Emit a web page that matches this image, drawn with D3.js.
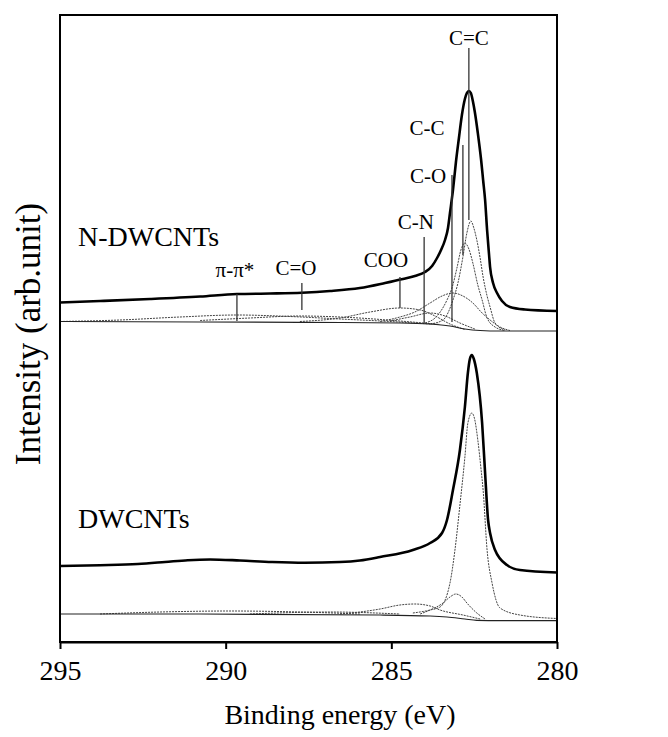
<!DOCTYPE html>
<html>
<head>
<meta charset="utf-8">
<script src="https://cdn.jsdelivr.net/npm/d3@7"></script>
<style>
  body { margin: 0; background: #fff; }
  text { font-family: "Liberation Serif", "Times New Roman", serif; fill: #000; }
</style>
</head>
<body>
<svg id="chart"></svg>
<script>
let width = 668, height = 737;
let margin = {top: 15, right: 111, bottom: 95, left: 60};
let plotW = width - margin.left - margin.right,
    plotH = height - margin.top - margin.bottom;

// binding energy ticks (eV)
let xTicks = [295, 290, 285, 280];

// ---- N-DWCNTs spectrum: [binding energy, intensity (arb.)] ----
let nEnvelope = [
  [295.00, 339.5], [293.79, 341], [292.28, 343], [290.77, 345.5], [289.66, 348],
  [288.66, 348.5], [287.70, 349.3], [286.85, 351], [285.95, 354], [285.19, 359],
  [284.65, 363], [284.29, 366], [283.98, 370], [283.77, 376], [283.62, 384],
  [283.50, 392], [283.38, 402], [283.29, 414], [283.23, 429], [283.14, 452],
  [283.05, 480], [282.96, 504], [282.87, 527], [282.78, 543], [282.72, 549],
  [282.66, 551], [282.60, 549], [282.54, 541], [282.48, 530], [282.39, 509],
  [282.29, 482], [282.23, 462], [282.17, 442], [282.11, 412], [282.05, 387],
  [282.02, 375], [281.93, 359], [281.81, 349], [281.66, 341], [281.42, 335],
  [280.97, 332.5], [280.00, 331]
];
let nBackground = [
  [295.00, 320.5], [290.77, 320], [287.76, 319.7], [284.74, 319], [283.83, 318],
  [283.23, 316], [282.78, 313], [282.32, 311.5], [281.72, 311], [280.00, 311]
];
let nPiPi = [
  [295.00, 320.5], [293.19, 322], [291.38, 325], [289.66, 327], [288.06, 325.5],
  [286.55, 323], [285.04, 320.5], [283.83, 318]
];
let nCdO = [
  [290.77, 321.5], [289.27, 324], [287.76, 326], [286.25, 324.5], [284.74, 321], [283.53, 317.5]
];
let nCOO = [
  [287.76, 320.5], [286.55, 324], [285.64, 330], [284.74, 334], [284.13, 332],
  [283.68, 326], [283.23, 318], [282.78, 312.5]
];
let nCN = [
  [285.04, 321], [284.44, 325], [283.83, 329], [283.38, 326], [282.93, 319], [282.48, 313]
];
let nCO = [
  [285.34, 320.5], [284.74, 325], [284.29, 330], [283.83, 339], [283.47, 346],
  [283.14, 349], [282.84, 346], [282.54, 339], [282.26, 329], [282.02, 322],
  [281.72, 315], [281.42, 311.5]
];
let nCC = [
  [283.98, 319], [283.62, 326], [283.32, 342], [283.17, 354], [283.02, 374],
  [282.90, 392], [282.78, 399], [282.66, 393], [282.54, 379], [282.39, 357],
  [282.26, 342], [282.11, 324], [281.87, 315], [281.57, 311.5]
];
let nCeqC = [
  [283.83, 318], [283.44, 322], [283.14, 342], [282.99, 359], [282.84, 385],
  [282.72, 409], [282.60, 421], [282.51, 414], [282.42, 402], [282.32, 384],
  [282.23, 365], [282.11, 346], [282.02, 335], [281.87, 319], [281.57, 312]
];

// ---- DWCNTs spectrum ----
let dEnvelope = [
  [295.00, 76], [293.79, 76.8], [292.65, 78], [291.83, 80], [291.14, 81.8],
  [290.47, 82.5], [289.57, 81.5], [288.60, 80], [287.61, 79.3], [286.55, 80],
  [285.95, 81.5], [285.34, 85], [284.35, 92], [283.83, 99], [283.47, 109],
  [283.32, 122], [283.14, 152], [282.93, 192], [282.78, 235], [282.69, 269],
  [282.63, 283], [282.57, 287], [282.51, 283], [282.42, 269], [282.26, 219],
  [282.17, 169], [282.08, 122], [282.02, 109], [281.87, 92], [281.51, 77],
  [281.12, 72], [280.00, 69.5]
];
let dBackground = [
  [295.00, 28], [290.77, 28], [285.34, 27], [283.83, 26], [283.32, 25],
  [282.78, 23], [282.42, 21.7], [281.72, 21.3], [280.00, 21.3]
];
let dPiPi = [
  [293.79, 28], [291.98, 30], [289.87, 31], [287.76, 30], [285.95, 28]
];
let dCdO = [
  [289.27, 28], [286.85, 30], [284.74, 28]
];
let dCO = [
  [286.55, 28], [285.95, 30], [285.34, 33], [284.74, 37], [284.29, 38],
  [283.83, 36], [283.53, 32], [282.84, 27], [282.32, 23]
];
let dCC = [
  [284.13, 28], [283.83, 32], [283.44, 39], [283.23, 45], [283.05, 48],
  [282.87, 45], [282.72, 39], [282.42, 29], [282.17, 23]
];
let dCeqC = [
  [284.35, 29], [283.83, 32], [283.53, 35], [283.23, 59], [283.08, 92],
  [282.93, 137], [282.78, 185], [282.69, 219], [282.57, 229], [282.48, 222],
  [282.39, 202], [282.29, 172], [282.23, 152], [282.11, 92], [281.96, 59],
  [281.72, 34], [281.12, 27], [280.00, 23.5]
];

// peak assignments: label, line energy, line top, line bottom, text energy, text baseline
let peakNames = ["π-π*", "C=O", "COO", "C-N", "C-O", "C-C", "C=C"];
let peakLineE = [289.66, 287.70, 284.74, 284.01, 283.17, 282.84, 282.66];
let peakLineTop = [348, 359, 365, 405, 467, 497, 594];
let peakLineBottom = [321, 332, 334, 319, 320, 387, 422];
let peakTextE = [289.72, 287.88, 285.16, 284.26, 283.89, 283.92, 282.66];
let peakTextV = [365, 367, 375, 413, 459, 507, 597];

let svg = d3.select("#chart")
    .attr("width", width)
    .attr("height", height);

let x = d3.scaleLinear().domain([295, 280]).range([margin.left, margin.left + plotW]);
let y = d3.scaleLinear().domain([0, 627]).range([margin.top + plotH, margin.top]);

let line = d3.line()
    .x(d => x(d[0]))
    .y(d => y(d[1]))
    .curve(d3.curveMonotoneX);

// fitted components (dotted, grey)
let comps = [nPiPi, nCdO, nCOO, nCN, nCO, nCC, nCeqC, dPiPi, dCdO, dCO, dCC, dCeqC];
svg.selectAll("path.comp")
    .data(comps)
    .enter().append("path")
    .attr("class", "comp")
    .attr("d", line)
    .attr("fill", "none")
    .attr("stroke", "#444")
    .attr("stroke-width", 1)
    .attr("stroke-dasharray", "2,1");

// backgrounds
svg.selectAll("path.bg")
    .data([nBackground, dBackground])
    .enter().append("path")
    .attr("class", "bg")
    .attr("d", line)
    .attr("fill", "none")
    .attr("stroke", "#222")
    .attr("stroke-width", 1.2);

// measured envelopes
svg.selectAll("path.env")
    .data([nEnvelope, dEnvelope])
    .enter().append("path")
    .attr("class", "env")
    .attr("d", line)
    .attr("fill", "none")
    .attr("stroke", "#000")
    .attr("stroke-width", 2.6);

// peak marker lines + labels
let peaks = peakNames.map((name, i) => ({
  name: name, e: peakLineE[i], top: peakLineTop[i], bottom: peakLineBottom[i],
  te: peakTextE[i], tv: peakTextV[i]
}));

svg.selectAll("line.peak")
    .data(peaks)
    .enter().append("line")
    .attr("class", "peak")
    .attr("x1", d => x(d.e)).attr("x2", d => x(d.e))
    .attr("y1", d => y(d.top)).attr("y2", d => y(d.bottom))
    .attr("stroke", "#333")
    .attr("stroke-width", 1.3);

svg.selectAll("text.peak")
    .data(peaks)
    .enter().append("text")
    .attr("class", "peak")
    .attr("x", d => x(d.te))
    .attr("y", d => y(d.tv))
    .attr("text-anchor", "middle")
    .style("font-size", "21px")
    .text(d => d.name);

// sample names
svg.append("text")
    .attr("x", 78).attr("y", 246)
    .style("font-size", "28px")
    .text("N-DWCNTs");
svg.append("text")
    .attr("x", 78).attr("y", 528)
    .style("font-size", "28px")
    .text("DWCNTs");

// frame
svg.append("rect")
    .attr("x", margin.left).attr("y", margin.top)
    .attr("width", plotW).attr("height", plotH)
    .attr("fill", "none")
    .attr("stroke", "#000")
    .attr("stroke-width", 2);

// x axis
let xAxis = svg.append("g")
    .attr("transform", `translate(0,${margin.top + plotH})`)
    .call(d3.axisBottom(x).tickValues(xTicks).tickSize(7).tickSizeOuter(0).tickPadding(11));
xAxis.select(".domain").attr("stroke-width", 2);
xAxis.selectAll(".tick line").attr("stroke-width", 2);
xAxis.selectAll(".tick text")
    .style("font-family", "'Liberation Serif', 'Times New Roman', serif")
    .style("font-size", "28px");

// axis titles
svg.append("text")
    .attr("x", 340).attr("y", 724)
    .attr("text-anchor", "middle")
    .style("font-size", "28px")
    .text("Binding energy (eV)");

svg.append("text")
    .attr("transform", "translate(40,334) rotate(-90)")
    .attr("text-anchor", "middle")
    .style("font-size", "35px")
    .text("Intensity (arb.unit)");
</script>
</body>
</html>
